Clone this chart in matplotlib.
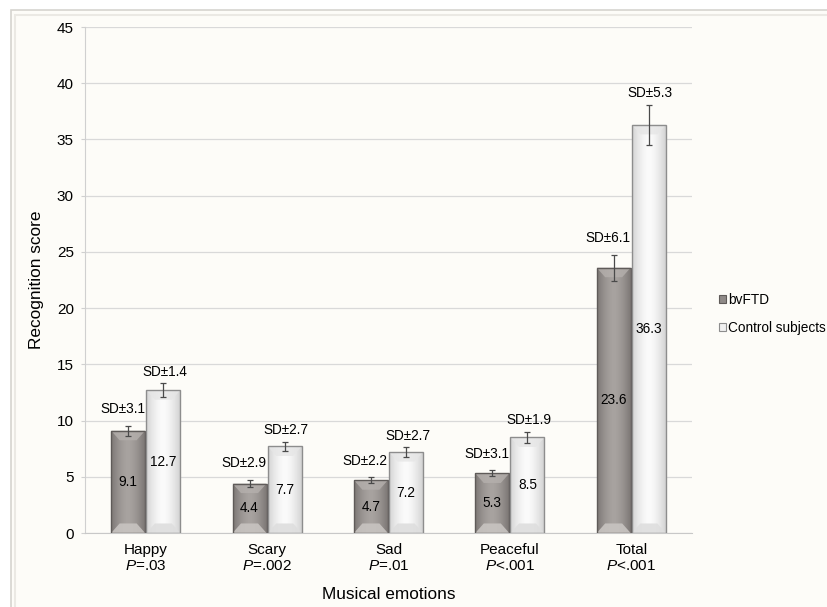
import numpy as np
import matplotlib
matplotlib.use("Agg")
import matplotlib.pyplot as plt
from matplotlib.patches import Rectangle, Patch, Polygon

plt.rcParams['font.family'] = ['Liberation Sans', 'DejaVu Sans']
plt.rcParams['mathtext.fontset'] = 'custom'
plt.rcParams['mathtext.rm'] = 'Liberation Sans'
plt.rcParams['mathtext.it'] = 'Liberation Sans:italic'

# recognition scores per emotion
emotions = ['Happy', 'Scary', 'Sad', 'Peaceful', 'Total']
p_values = ['=.03', '=.002', '=.01', '<.001', '<.001']
ftd_mean = [9.1, 4.4, 4.7, 5.3, 23.6]
ctrl_mean = [12.7, 7.7, 7.2, 8.5, 36.3]
ftd_sd = [3.1, 2.9, 2.2, 3.1, 6.1]
ctrl_sd = [1.4, 2.7, 2.7, 1.9, 5.3]
# error bar half-lengths as drawn
ftd_err = [0.45, 0.3, 0.25, 0.27, 1.15]
ctrl_err = [0.6, 0.38, 0.42, 0.5, 1.8]

BG = '#fdfcf8'
fig = plt.figure(figsize=(8.28, 6.07), dpi=100)
fig.patch.set_facecolor('white')

# chart frame (off-white panel with a soft double border)
fig.patches.append(Rectangle((0.013, -0.05), 1.1, 1.034,
                             transform=fig.transFigure, facecolor=BG,
                             edgecolor='#d6d4cf', lw=1.2, zorder=-2))
fig.patches.append(Rectangle((0.018, -0.05), 1.1, 1.026,
                             transform=fig.transFigure, facecolor='none',
                             edgecolor='#ebe9e4', lw=1.5, zorder=-1))

ax = fig.add_axes([0.1027, 0.1219, 0.733, 0.8336])
ax.set_facecolor(BG)
ax.set_xlim(-0.5, 4.5)
ax.set_ylim(0, 45)

x = np.arange(len(emotions))
w = 0.28
off = 0.145

# (side, centre, outline, top bevel, bottom bevel)
dark = ('#7c7775', '#a8a3a0', '#5f5b59', '#b5b0ad', '#c8c4c1')
light = ('#d3d3d3', '#fbfbfb', '#8d8d8d', '#e6e6e6', '#dedede')


def shade(bars, edge_c, mid_c, line_c, top_c, bot_c):
    # horizontal gradient inside each bar plus bevelled top and bottom
    ramp = np.abs(np.linspace(-1, 1, 64)) ** 1.6
    e = np.array(matplotlib.colors.to_rgb(edge_c))
    m = np.array(matplotlib.colors.to_rgb(mid_c))
    img = (m[None, :] * (1 - ramp[:, None]) + e[None, :] * ramp[:, None])[None, :, :]
    bx = 0.07
    by = 0.85
    for b in bars:
        x0, y0, bw, bh = b.get_x(), b.get_y(), b.get_width(), b.get_height()
        x1, y1 = x0 + bw, y0 + bh
        im = ax.imshow(img, extent=(x0, x1, y0, y1), aspect='auto',
                       interpolation='bicubic', zorder=2)
        im.set_clip_path(b)
        d = min(by, bh / 3)
        ax.add_patch(Polygon([(x0, y0), (x1, y0), (x1 - bx, y0 + d), (x0 + bx, y0 + d)],
                             closed=True, facecolor=bot_c, edgecolor='none',
                             alpha=0.9, zorder=2.5))
        ax.add_patch(Polygon([(x0, y1), (x1, y1), (x1 - bx, y1 - d), (x0 + bx, y1 - d)],
                             closed=True, facecolor=top_c, edgecolor='none',
                             alpha=0.8, zorder=2.5))
        b.set_facecolor('none')
        b.set_edgecolor(line_c)
        b.set_linewidth(1.0)
        b.set_zorder(3)


b1 = ax.bar(x - off, ftd_mean, w)
b2 = ax.bar(x + off, ctrl_mean, w)
shade(b1, *dark)
shade(b2, *light)

ax.errorbar(x - off, ftd_mean, yerr=ftd_err, fmt='none', ecolor='#4a4a4a',
            elinewidth=0.9, capsize=2.5, capthick=0.9, zorder=4)
ax.errorbar(x + off, ctrl_mean, yerr=ctrl_err, fmt='none', ecolor='#4a4a4a',
            elinewidth=0.9, capsize=2.5, capthick=0.9, zorder=4)

fs = 9.8
for i in range(len(emotions)):
    ax.text(x[i] - off, ftd_mean[i] / 2, f'{ftd_mean[i]:.1f}', ha='center',
            va='center', fontsize=fs, zorder=5)
    ax.text(x[i] + off, ctrl_mean[i] / 2, f'{ctrl_mean[i]:.1f}', ha='center',
            va='center', fontsize=fs, zorder=5)
    ax.annotate(f'SD±{ftd_sd[i]}', (x[i] - off, ftd_mean[i] + ftd_err[i]),
                xytext=(-4, 12), textcoords='offset points', ha='center',
                va='center', fontsize=fs, zorder=5)
    ax.annotate(f'SD±{ctrl_sd[i]}', (x[i] + off, ctrl_mean[i] + ctrl_err[i]),
                xytext=(1, 8.5), textcoords='offset points', ha='center',
                va='center', fontsize=fs, zorder=5)

ax.set_yticks(np.arange(0, 46, 5))
ax.set_xticks(x)
ax.set_xticklabels([f'{e}\n$\\mathit{{P}}${p}' for e, p in zip(emotions, p_values)],
                   fontsize=11, linespacing=1.2)
ax.tick_params(axis='x', length=0, pad=7)
ax.tick_params(axis='y', length=3, color='#d0d0d0', pad=5, labelsize=11)
ax.yaxis.grid(True, color='#d9d9d9', lw=0.9)
ax.set_axisbelow(True)
for s in ['top', 'right']:
    ax.spines[s].set_visible(False)
ax.spines['left'].set_color('#d0d0d0')
ax.spines['bottom'].set_color('#c8c8c8')

ax.set_ylabel('Recognition score', fontsize=12.4, labelpad=9)
ax.set_xlabel('Musical emotions', fontsize=12.4, labelpad=10)

handles = [Patch(facecolor='#8f8a88', edgecolor=dark[2], lw=0.8, label='bvFTD'),
           Patch(facecolor='#f0f0f0', edgecolor=light[2], lw=0.8, label='Control subjects')]
fig.legend(handles=handles, loc='center left', bbox_to_anchor=(0.853, 0.483),
           frameon=False, fontsize=fs, handlelength=0.55, handleheight=0.55,
           handletextpad=0.15, labelspacing=1.05)

fig.savefig('out.png', dpi=100, facecolor=fig.get_facecolor())
